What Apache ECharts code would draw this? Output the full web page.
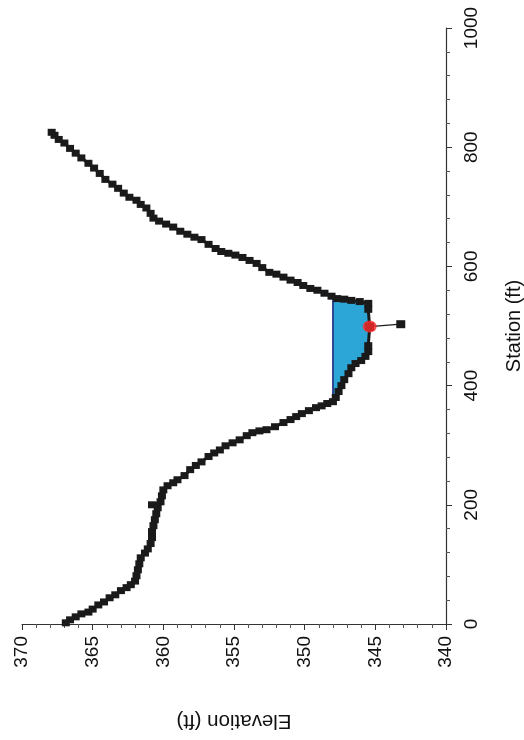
<!DOCTYPE html>
<html>
<head>
<meta charset="utf-8">
<script src="https://cdn.jsdelivr.net/npm/echarts@6/dist/echarts.min.js"></script>
<style>
html,body{margin:0;padding:0;background:#fff;}
#chart{width:524px;height:740px;}
</style>
</head>
<body>
<div id="chart"></div>
<script>
// Ground profile (station ft, elevation ft)
var profileStation = [2,7,12,17,20,25,32,37,44,49,56,61,66,72,81,91,101,111,119,126,135,145,155,165,175,185,195,200,205,215,225,232,237,242,249,259,266,272,281,287,292,299,304,309,316,321,324,326,331,338,343,348,353,358,363,366,370,373,
  380,390,400,410,420,430,437,442,449,457,467,498,528,538,541,543,545,546,550,
  555,560,563,568,573,577,582,587,590,598,605,610,615,619,622,625,630,637,645,649,654,659,666,671,676,681,689,698,704,711,716,723,731,738,746,756,765,773,782,790,798,807,813,820,825];
var profileElevation = [366.9,366.6,366.2,365.8,365.3,365.0,364.6,364.2,363.8,363.4,363.0,362.6,362.3,362.0,361.9,361.8,361.7,361.6,361.3,361.1,360.9,360.8,360.8,360.7,360.6,360.5,360.4,360.8,360.2,360.1,360.0,359.7,359.3,359.0,358.5,358.1,357.7,357.3,356.8,356.4,356.0,355.6,355.1,354.6,354.1,353.7,353.2,352.7,352.1,351.5,351.0,350.6,350.2,349.7,349.2,348.8,348.4,348.0,
  347.8,347.6,347.4,347.2,346.9,346.7,346.4,346.0,345.7,345.5,345.5,345.4,345.5,345.5,346.1,346.7,347.2,347.7,348.1,
  348.6,349.1,349.6,350.1,350.5,351.0,351.5,352.0,352.5,353.0,353.4,353.9,354.4,354.9,355.4,355.9,356.3,356.8,357.3,357.8,358.3,358.8,359.3,359.8,360.3,360.7,360.9,361.2,361.6,361.9,362.4,362.8,363.2,363.6,364.1,364.5,364.9,365.3,365.8,366.2,366.6,367.0,367.4,367.7,367.9];

// Water area: surface then bed (station ft, elevation ft)
var waterStation = [373,380,390,400,410,420,430,437,442,449,457,467,498,528,538,541,543,545,548];
var waterElevation = [348.0,347.8,347.6,347.4,347.2,346.9,346.7,346.4,346.0,345.7,345.5,345.5,345.4,345.5,345.5,346.1,346.7,347.2,348.0];
var waterSurfaceElev = 348.0;
var waterSurfaceStations = [373,548];

// Thalweg shot and marker
var spikeStation = [499,503];
var spikeElevation = [345.4,343.2];
var markerStation = [499];
var markerElevation = [345.4];

var elevTicks = [340,345,350,355,360,365,370];
var stationTicks = [0,200,400,600,800,1000];

function pairs(st, el){ return st.map(function(s,i){ return [el[i], s]; }); }

var profileData = pairs(profileStation, profileElevation);
var waterData = pairs(waterStation, waterElevation);
var surfaceData = waterSurfaceStations.map(function(s){ return [waterSurfaceElev, s]; });
var spikeData = pairs(spikeStation, spikeElevation);
var markerData = pairs(markerStation, markerElevation);

var FONT = 'Liberation Sans, Arial, sans-serif';
var chart = echarts.init(document.getElementById('chart'), null, {renderer:'canvas'});
chart.setOption({
  animation:false,
  backgroundColor:'#ffffff',
  grid:{left:22, right:78, top:28, bottom:116, containLabel:false, outerBoundsMode:'none'},
  xAxis:{
    type:'value', min:elevTicks[0], max:elevTicks[elevTicks.length-1], interval:5, inverse:true, position:'bottom',
    axisLine:{show:true, onZero:false, lineStyle:{color:'#333', width:1.2}},
    axisTick:{show:true, length:6, lineStyle:{color:'#333'}},
    minorTick:{show:true, splitNumber:5, length:4, lineStyle:{color:'#555'}},
    splitLine:{show:false},
    axisLabel:{rotate:90, fontSize:19, color:'#111', margin:12, fontFamily:FONT, formatter:function(v){ return String(v); }},
    name:'Elevation (ft)', nameLocation:'middle', nameGap:86, nameRotate:180,
    nameTextStyle:{fontSize:20.5, color:'#111', fontFamily:FONT}
  },
  yAxis:{
    type:'value', min:stationTicks[0], max:stationTicks[stationTicks.length-1], interval:200, position:'right',
    axisLine:{show:true, onZero:false, lineStyle:{color:'#333', width:1.2}},
    axisTick:{show:true, length:6, lineStyle:{color:'#333'}},
    minorTick:{show:true, splitNumber:5, length:4, lineStyle:{color:'#555'}},
    splitLine:{show:false},
    axisLabel:{rotate:90, fontSize:19, color:'#111', margin:16, fontFamily:FONT, formatter:function(v){ return String(v); }},
    name:'Station (ft)', nameLocation:'middle', nameGap:58, nameRotate:90,
    nameTextStyle:{fontSize:20, color:'#111', fontFamily:FONT}
  },
  series:[
    {
      type:'custom', name:'Water', z:1, silent:true,
      data:waterData,
      renderItem:function(params, api){
        if(params.dataIndex !== 0) return null;
        var pts = waterData.map(function(p){ return api.coord(p); });
        return {type:'polygon', shape:{points:pts}, style:{fill:'#2ba6d6', stroke:null}};
      }
    },
    {
      type:'line', name:'Water surface', z:2, data:surfaceData, symbol:'none',
      lineStyle:{color:'#1f2a80', width:1.6}
    },
    {
      type:'line', name:'Spike', z:3, data:spikeData, symbol:'rect', symbolSize:[9,8],
      showSymbol:true, itemStyle:{color:'#1a1a1a'}, lineStyle:{color:'#1a1a1a', width:1.2}
    },
    {
      type:'line', name:'Ground', z:4, data:profileData, symbol:'rect', symbolSize:[8,7], showAllSymbol:true,
      itemStyle:{color:'#1a1a1a'}, lineStyle:{color:'#1a1a1a', width:3}
    },
    {
      type:'scatter', name:'Marker', z:5, data:markerData, symbol:'circle', symbolSize:[14,12],
      itemStyle:{color:'#ff2a2a'}
    }
  ]
});
</script>
</body>
</html>
